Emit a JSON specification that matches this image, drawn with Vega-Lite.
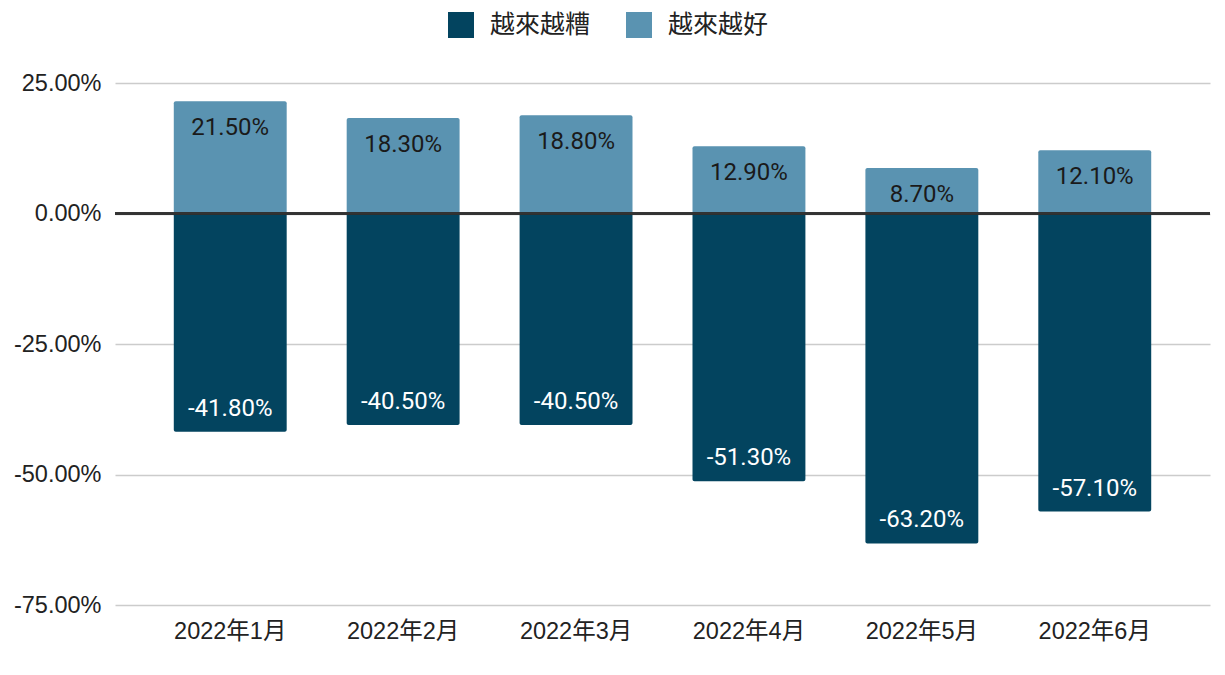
{
  "$schema": "https://vega.github.io/schema/vega-lite/v6.json",
  "autosize": {"type": "none"},
  "width": 1095,
  "height": 522,
  "padding": {"left": 115, "top": 83, "right": 15, "bottom": 70},
  "background": "#ffffff",
  "config": {
    "font": "Roboto, Noto Sans CJK TC",
    "view": {"stroke": null}
  },
  "data": {
    "values": [
      {"month": "2022年1月", "series": "越來越糟", "value": -0.418},
      {"month": "2022年2月", "series": "越來越糟", "value": -0.405},
      {"month": "2022年3月", "series": "越來越糟", "value": -0.405},
      {"month": "2022年4月", "series": "越來越糟", "value": -0.513},
      {"month": "2022年5月", "series": "越來越糟", "value": -0.632},
      {"month": "2022年6月", "series": "越來越糟", "value": -0.571},
      {"month": "2022年1月", "series": "越來越好", "value": 0.215},
      {"month": "2022年2月", "series": "越來越好", "value": 0.183},
      {"month": "2022年3月", "series": "越來越好", "value": 0.188},
      {"month": "2022年4月", "series": "越來越好", "value": 0.129},
      {"month": "2022年5月", "series": "越來越好", "value": 0.087},
      {"month": "2022年6月", "series": "越來越好", "value": 0.121}
    ]
  },
  "encoding": {
    "x": {
      "field": "month",
      "type": "nominal",
      "sort": null,
      "scale": {"paddingInner": 0.347, "paddingOuter": 0.34},
      "axis": {
        "title": null,
        "labelAngle": 0,
        "labelFontSize": 23.5,
        "labelColor": "#222222",
        "labelFont": "Liberation Sans, Noto Sans CJK TC",
        "labelPadding": 14,
        "ticks": false,
        "domain": false,
        "grid": false
      }
    },
    "y": {
      "field": "value",
      "type": "quantitative",
      "stack": null,
      "scale": {"domain": [-0.75, 0.25], "nice": false, "zero": false},
      "axis": {
        "title": null,
        "format": ".2%",
        "labelExpr": "replace(datum.label, '−', '-')",
        "values": [-0.75, -0.5, -0.25, 0, 0.25],
        "labelFontSize": 23.5,
        "labelFont": "Liberation Sans",
        "labelColor": "#222222",
        "labelPadding": 14,
        "ticks": false,
        "domain": false,
        "grid": true,
        "gridColor": "#cccccc",
        "gridWidth": 1.5
      }
    }
  },
  "layer": [
    {
      "mark": {"type": "bar", "cornerRadius": 2},
      "encoding": {
        "color": {
          "field": "series",
          "type": "nominal",
          "sort": ["越來越糟", "越來越好"],
          "scale": {"domain": ["越來越糟", "越來越好"], "range": ["#03445f", "#5a93b1"]},
          "legend": {
            "title": null,
            "orient": "none",
            "direction": "horizontal",
            "legendX": 333,
            "legendY": -71,
            "symbolType": "square",
            "symbolSize": 676,
            "symbolStrokeWidth": 0,
            "labelFontSize": 25,
            "labelColor": "#222222",
            "labelFont": "Noto Sans CJK TC",
            "labelOffset": 16,
            "columnPadding": 35
          }
        }
      }
    },
    {
      "mark": {"type": "rule", "color": "#333333", "strokeWidth": 1.5},
      "encoding": {"x": null, "y": {"datum": 0, "type": "quantitative"}}
    },
    {
      "transform": [
        {"filter": "datum.value > 0"},
        {"calculate": "replace(format(datum.value, '.2%'), '−', '-')", "as": "label"}
      ],
      "mark": {"type": "text", "baseline": "middle", "dy": 27, "fontSize": 24, "color": "#1a1a1a"},
      "encoding": {"text": {"field": "label", "type": "nominal"}}
    },
    {
      "transform": [
        {"filter": "datum.value < 0"},
        {"calculate": "replace(format(datum.value, '.2%'), '−', '-')", "as": "label"}
      ],
      "mark": {"type": "text", "baseline": "middle", "dy": -23, "fontSize": 24, "color": "#ffffff"},
      "encoding": {"text": {"field": "label", "type": "nominal"}}
    }
  ]
}
